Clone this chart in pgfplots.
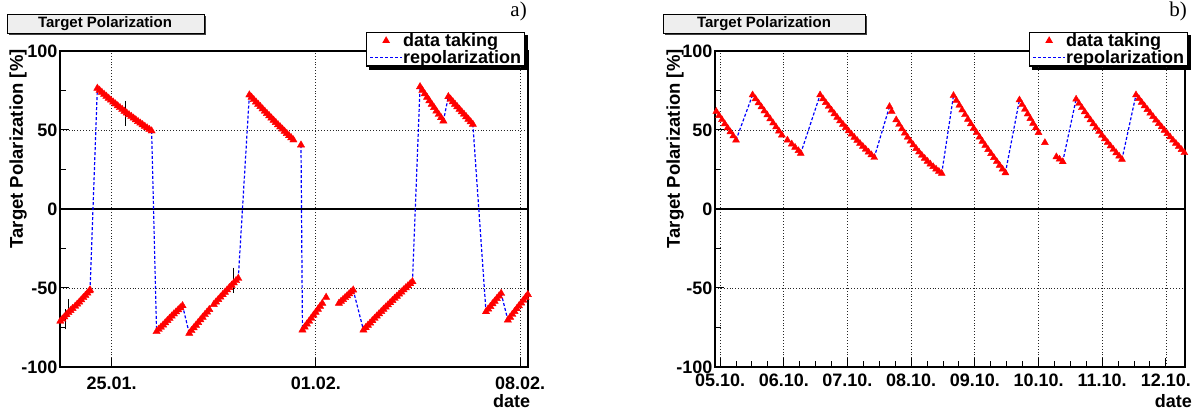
\documentclass[border=0pt]{standalone}
\usepackage{fontspec}
\setmainfont{Liberation Sans}
\newfontfamily\timesf{Liberation Serif}
\usepackage{pgfplots}
\pgfplotsset{compat=1.18}
\pgfdeclarelayer{background}
\pgfsetlayers{background,main}
\definecolor{rootred}{RGB}{255,0,0}
\definecolor{rootblue}{RGB}{0,0,255}
\definecolor{boxgray}{RGB}{238,238,238}
\pgfplotsset{
  rootaxis/.style={
    scale only axis, anchor=south west,
    ymin=-100, ymax=100,
    ytick={-100,-50,0,50,100}, yticklabels={-100,-50,0,50,100},
    minor ytick={-75,-25,25,75},
    grid=major,
    major grid style={black!85, dash pattern=on 0.9pt off 2pt, line width=0.8pt},
    axis line style={line width=1.5pt},
    every tick/.style={black, line width=1pt},
    major tick length=9pt, minor tick length=6pt,
    tick align=inside, xtick pos=bottom, ytick pos=left,
    tick label style={font=\fontsize{18}{18}\selectfont\bfseries},
    yticklabel style={inner sep=0pt, anchor=east, xshift=-2.5pt},
    ylabel={Target Polarization [\%]},
    ylabel style={font=\fontsize{18.5}{18.5}\selectfont\bfseries, inner sep=0pt, anchor=east},
    xlabel={date},
    xlabel style={font=\fontsize{18}{18}\selectfont\bfseries, inner sep=0pt, anchor=north east},
    legend cell align=left,
    legend style={font=\fontsize{18}{18}\selectfont\bfseries, anchor=north east,
      draw=black, line width=1.2pt, fill=white, inner xsep=3pt, inner ysep=0.5pt,
      nodes={inner sep=0.3pt}, row sep=2pt},
    legend entries={data taking, repolarization},
  },
  datamarks/.style={only marks, mark=triangle*, mark size=4pt, color=rootred, forget plot},
  repol/.style={rootblue, dash pattern=on 3pt off 2pt, line width=1.2pt, unbounded coords=jump, forget plot},
  zeroline/.style={black, line width=1.5pt, forget plot},
}
\newcommand{\legimages}{%
  \addlegendimage{legend image code/.code={\fill[rootred, draw=none] (16pt,4.5pt) -- (12.1pt,-2.25pt) -- (19.9pt,-2.25pt) -- cycle; \path[draw=none] (0pt,0pt) -- (32pt,0pt);}}
  \addlegendimage{legend image code/.code={\draw[draw=rootblue, dash pattern=on 3pt off 2pt, line width=1.3pt] (0pt,0pt) -- (32pt,0pt);}}
}
\begin{document}
\begin{tikzpicture}
\path[use as bounding box] (0pt,0pt) rectangle (1194pt,411pt);
% ---------------- left panel a)
\begin{axis}[rootaxis, at={(60pt,44pt)}, width=468pt, height=316pt,
  xmin=-1.77, xmax=14.27,
  xtick={0,7,14}, xticklabels={25.01.,01.02.,08.02.},
  xticklabel style={inner sep=0pt, anchor=north, yshift=-10pt},
  ylabel style={at={(axis description cs:-0.0897,1.006)}},
  xlabel style={at={(axis description cs:1.005,-0.086)}},
  legend style={at={(axis description cs:0.9936,1.060)}, name=legA},
  datamarks/.append style={mark size=4.2pt},
]
\legimages
\addplot[zeroline] coordinates {(-2,0) (15,0)};
\addplot[repol] coordinates {
(-0.74,-51.3) (-0.49,76.4) (nan,nan)
(1.37,49.4) (1.54,-77.6) (nan,nan)
(2.43,-61.2) (2.66,-78.7) (nan,nan)
(4.34,-43.9) (4.72,72.2) (nan,nan)
(6.49,40.5) (6.54,-76.6) (nan,nan)
(8.28,-51.3) (8.63,-76.6) (nan,nan)
(10.31,-46.0) (10.57,77.4) (nan,nan)
(11.37,55.7) (11.54,71.1) (nan,nan)
(12.38,53.6) (12.83,-65.0) (nan,nan)
(13.35,-53.4) (13.58,-70.3)
};
\addplot[datamarks] coordinates {
(-1.83,-72.4) (-1.76,-71.0) (-1.69,-69.6) (-1.62,-68.3) (-1.55,-66.9) (-1.48,-65.6) (-1.41,-64.3) (-1.34,-63.0)
(-1.25,-61.5) (-1.18,-60.2) (-1.11,-58.9) (-1.04,-57.5) (-0.97,-56.1) (-0.90,-54.7) (-0.83,-53.2) (-0.76,-51.8) (-0.74,-51.3)
(-0.49,76.4) (-0.4125,75.11) (-0.335,73.84) (-0.2575,72.58) (-0.18,71.34) (-0.1025,70.11) (-0.025,68.89) (0.0525,67.69)
(0.13,66.50) (0.2075,65.33) (0.285,64.17) (0.3625,63.02) (0.44,61.89) (0.5175,60.77) (0.595,59.67) (0.6725,58.58)
(0.75,57.50) (0.8275,56.44) (0.905,55.39) (0.9825,54.36) (1.06,53.34) (1.1375,52.33) (1.215,51.34) (1.2925,50.36) (1.37,49.4)
(1.54,-77.6) (1.614,-76.2) (1.688,-74.8) (1.763,-73.4) (1.837,-72.0) (1.911,-70.6) (1.985,-69.2) (2.059,-67.8)
(2.133,-66.4) (2.208,-65.1) (2.282,-63.8) (2.356,-62.5) (2.43,-61.2)
(2.66,-78.7) (2.736,-76.97) (2.813,-75.25) (2.889,-73.55) (2.965,-71.86) (3.042,-70.18) (3.118,-68.52) (3.195,-66.87)
(3.271,-65.24) (3.347,-63.62) (3.50,-60.43) (3.576,-58.86) (3.653,-57.30) (3.729,-55.75) (3.805,-54.22) (3.882,-52.70)
(3.958,-51.20) (4.035,-49.71) (4.111,-48.24) (4.187,-46.78) (4.264,-45.33) (4.34,-43.9)
(4.72,72.2) (4.796,70.71) (4.871,69.22) (4.947,67.74) (5.022,66.27) (5.098,64.81) (5.173,63.35) (5.249,61.90)
(5.324,60.46) (5.400,59.02) (5.475,57.59) (5.551,56.17) (5.626,54.76) (5.702,53.35) (5.777,51.95) (5.853,50.56)
(5.928,49.17) (6.004,47.79) (6.079,46.42) (6.155,45.06) (6.23,43.7) (6.49,40.5)
(6.54,-76.6) (6.616,-74.7) (6.691,-72.8) (6.767,-71.0) (6.842,-69.1) (6.918,-67.2) (6.993,-65.4) (7.069,-63.5)
(7.144,-61.6) (7.22,-59.7) (7.35,-55.9)
(7.79,-59.7) (7.86,-58.5) (7.93,-57.3) (8.0,-56.1) (8.07,-54.9) (8.14,-53.7) (8.21,-52.5) (8.28,-51.3)
(8.63,-76.6) (8.706,-75.10) (8.783,-73.62) (8.859,-72.14) (8.935,-70.67) (9.012,-69.22) (9.088,-67.77) (9.165,-66.33)
(9.241,-64.91) (9.317,-63.49) (9.394,-62.08) (9.47,-60.69) (9.546,-59.30) (9.623,-57.93) (9.699,-56.56) (9.775,-55.21)
(9.852,-53.86) (9.928,-52.52) (10.005,-51.20) (10.081,-49.88) (10.157,-48.58) (10.234,-47.28) (10.31,-46.0)
(10.57,77.4) (10.65,75.1) (10.73,72.9) (10.81,70.7) (10.89,68.5) (10.97,66.3) (11.05,64.2) (11.13,62.0)
(11.21,59.9) (11.29,57.8) (11.37,55.7)
(11.54,71.1) (11.616,69.5) (11.693,67.9) (11.769,66.3) (11.845,64.7) (11.922,63.1) (11.998,61.5) (12.075,60.0)
(12.151,58.4) (12.227,56.8) (12.304,55.2) (12.38,53.6)
(12.83,-65.0) (12.904,-63.3) (12.979,-61.7) (13.053,-60.0) (13.127,-58.4) (13.201,-56.7) (13.276,-55.1) (13.35,-53.4)
(13.58,-70.3) (13.656,-68.5) (13.732,-66.7) (13.808,-64.9) (13.884,-63.1) (13.96,-61.3) (14.036,-59.5) (14.112,-57.7)
(14.188,-55.9) (14.264,-54.1) (14.34,-52.3)
};
\addplot[draw=none, mark=none, forget plot, error bars/.cd, y dir=both, y explicit,
  error bar style={draw=black, solid, line width=0.9pt},
  error mark options={draw=black, solid, line width=0.9pt, mark size=2.5pt}]
coordinates {
(-1.60,-69.8) +- (0,4.8)
(-1.49,-62.8) +- (0,4.2)
(0.46,60.5) +- (0,6.3)
(4.17,-45.0) +- (0,6.3)
};
\end{axis}
\begin{pgfonlayer}{background}
\fill[black] ([xshift=3pt,yshift=-3pt]legA.south west) rectangle ([xshift=3pt,yshift=-3pt]legA.north east);
\end{pgfonlayer}
% ---------------- right panel b)
\begin{axis}[rootaxis, at={(715pt,44pt)}, width=470pt, height=316pt,
  xmin=-0.08, xmax=7.30,
  xtick={0,1,2,3,4,5,6,7},
  xticklabels={05.10.,06.10.,07.10.,08.10.,09.10.,10.10.,11.10.,12.10.},
  minor x tick num=3,
  xticklabel style={inner sep=0pt, anchor=north, yshift=-6.5pt},
  ylabel style={at={(axis description cs:-0.085,1.006)}},
  xlabel style={at={(axis description cs:1.015,-0.086)}},
  legend style={at={(axis description cs:1.0064,1.060)}, name=legB},
]
\legimages
\addplot[zeroline] coordinates {(-1,0) (8,0)};
\addplot[repol] coordinates {
(0.25,43.6) (0.51,72.2) (nan,nan)
(1.266,35.2) (1.57,72.2) (nan,nan)
(2.42,32.6) (2.66,64.8) (nan,nan)
(3.48,22.5) (3.665,71.8) (nan,nan)
(4.48,22.9) (4.70,69.0) (nan,nan)
(5.38,29.9) (5.59,69.5) (nan,nan)
(6.31,31.4) (6.53,72.2)
};
\addplot[datamarks] coordinates {
(-0.06,61.7) (-0.016,59.1) (0.029,56.5) (0.073,53.9) (0.117,51.3) (0.161,48.8) (0.206,46.2) (0.25,43.6)
(0.51,72.2) (0.556,69.7) (0.602,67.1) (0.648,64.6) (0.694,62.0) (0.74,59.5) (0.786,57.0) (0.832,54.4)
(0.878,51.9) (0.924,49.3) (0.97,46.8)
(1.057,43.6) (1.125,41.1) (1.177,39.0) (1.23,36.9) (1.266,35.2)
(1.57,72.2) (1.615,69.72) (1.659,67.29) (1.704,64.89) (1.749,62.55) (1.794,60.24) (1.838,57.98) (1.883,55.77)
(1.928,53.60) (1.973,51.47) (2.017,49.38) (2.062,47.34) (2.107,45.35) (2.152,43.39) (2.196,41.49) (2.241,39.62)
(2.286,37.80) (2.331,36.02) (2.375,34.29) (2.42,32.6)
(2.66,64.8) (2.695,61.7)
(2.765,56.4) (2.810,53.49) (2.854,50.68) (2.899,47.98) (2.944,45.38) (2.988,42.89) (3.033,40.51) (3.078,38.23)
(3.123,36.06) (3.167,33.99) (3.212,32.03) (3.257,30.18) (3.301,28.43) (3.346,26.79) (3.391,25.25) (3.435,23.82) (3.48,22.5)
(3.665,71.8) (3.710,68.70) (3.756,65.64) (3.801,62.63) (3.846,59.67) (3.891,56.75) (3.937,53.87) (3.982,51.04)
(4.027,48.26) (4.073,45.52) (4.118,42.82) (4.163,40.17) (4.208,37.57) (4.254,35.01) (4.299,32.50) (4.344,30.03)
(4.389,27.61) (4.435,25.23) (4.48,22.9)
(4.70,69.0) (4.743,66.0) (4.786,63.1) (4.829,60.1) (4.871,57.2) (4.914,54.2) (4.957,51.3) (5.0,48.3)
(5.10,42.0)
(5.28,33.0) (5.33,31.5) (5.38,29.9)
(5.59,69.5) (5.635,66.78) (5.68,64.11) (5.725,61.49) (5.77,58.90) (5.815,56.37) (5.86,53.87) (5.905,51.43)
(5.95,49.02) (5.995,46.66) (6.04,44.35) (6.085,42.08) (6.13,39.85) (6.175,37.67) (6.22,35.54) (6.265,33.45) (6.31,31.4)
(6.53,72.2) (6.575,69.84) (6.619,67.51) (6.664,65.21) (6.709,62.93) (6.754,60.68) (6.798,58.45) (6.843,56.24)
(6.888,54.06) (6.932,51.91) (6.977,49.78) (7.022,47.68) (7.066,45.61) (7.111,43.55) (7.156,41.53) (7.201,39.53)
(7.245,37.55) (7.29,35.6)
};
\end{axis}
\begin{pgfonlayer}{background}
\fill[black] ([xshift=3pt,yshift=-3pt]legB.south west) rectangle ([xshift=3pt,yshift=-3pt]legB.north east);
\end{pgfonlayer}
% ---------------- title boxes and panel letters
\fill[black!75] (9pt,376pt) rectangle (206pt,395pt);
\draw[black, line width=0.6pt, fill=boxgray] (7pt,378pt) rectangle (204pt,397pt);
\node[font=\fontsize{15}{15}\selectfont\bfseries, inner sep=0pt] at (105pt,387.5pt) {Target Polarization};
\fill[black!75] (665pt,376pt) rectangle (867pt,395pt);
\draw[black, line width=0.6pt, fill=boxgray] (663pt,378pt) rectangle (865pt,397pt);
\node[font=\fontsize{15}{15}\selectfont\bfseries, inner sep=0pt] at (764pt,387.5pt) {Target Polarization};
\node[font=\timesf\fontsize{21}{21}\selectfont, inner sep=0pt, anchor=north east] at (527pt,409pt) {a)};
\node[font=\timesf\fontsize{21}{21}\selectfont, inner sep=0pt, anchor=north east] at (1187pt,409pt) {b)};
\end{tikzpicture}
\end{document}
